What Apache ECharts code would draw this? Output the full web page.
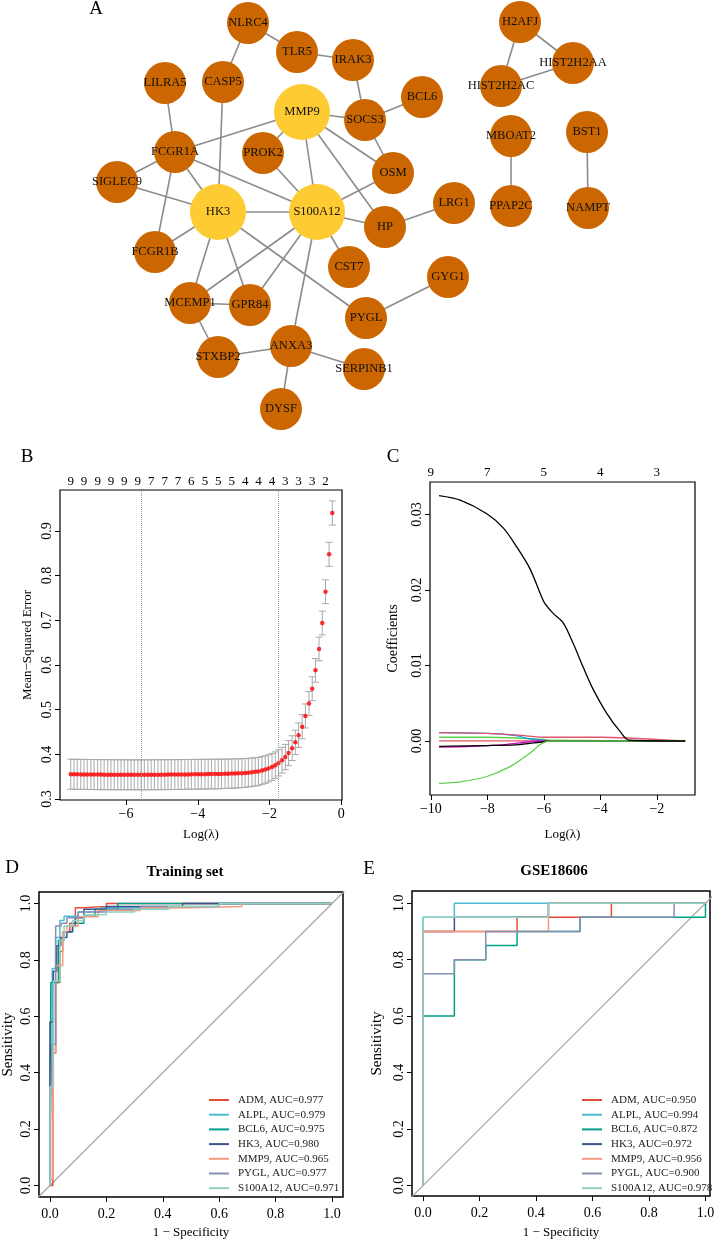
<!DOCTYPE html>
<html>
<head>
<meta charset="utf-8">
<script src="https://cdn.jsdelivr.net/npm/echarts@6/dist/echarts.min.js"></script>
<style>
html,body{margin:0;padding:0;background:#fff}
#main{width:718px;height:1240px}
</style>
</head>
<body>
<div id="main"></div>
<script>
var FONT = '"Liberation Serif", "Times New Roman", serif';

// ---------- A: PPI network (node positions) ----------
var geneNames = ['NLRC4','TLR5','IRAK3','CASP5','LILRA5','BCL6','MMP9','SOCS3','PROK2','FCGR1A',
  'OSM','SIGLEC9','HK3','S100A12','HP','LRG1','FCGR1B','CST7','GYG1','MCEMP1',
  'GPR84','PYGL','STXBP2','ANXA3','SERPINB1','DYSF','H2AFJ','HIST2H2AA','HIST2H2AC','MBOAT2',
  'BST1','PPAP2C','NAMPT'];
var genePos = [[248,23],[297,52],[353,60],[223,82],[165,83],[422,97],[302,112],[365,120],[263,153],[175,152],
  [393,173],[117,182],[218,212],[317,212],[385,227],[454,203],[155,252],[349,267],[448,277],[190,303],
  [250,305],[366,318],[218,357],[291,346],[364,369],[281,409],[520,22],[573,63],[501,86],[511,136],
  [587,132],[511,206],[588,208]];
var hubGenes = ['MMP9','HK3','S100A12'];
var ppiLinks = [['NLRC4','TLR5'],['TLR5','IRAK3'],['NLRC4','CASP5'],['IRAK3','SOCS3'],['SOCS3','BCL6'],
  ['MMP9','SOCS3'],['SOCS3','OSM'],['MMP9','OSM'],['MMP9','FCGR1A'],['MMP9','PROK2'],['MMP9','S100A12'],
  ['MMP9','HP'],['LILRA5','FCGR1A'],['CASP5','HK3'],['FCGR1A','SIGLEC9'],['FCGR1A','HK3'],
  ['FCGR1A','S100A12'],['FCGR1A','FCGR1B'],['SIGLEC9','HK3'],['PROK2','S100A12'],['HK3','S100A12'],
  ['S100A12','OSM'],['S100A12','HP'],['HP','LRG1'],['HK3','FCGR1B'],['HK3','MCEMP1'],['HK3','GPR84'],
  ['HK3','PYGL'],['S100A12','MCEMP1'],['S100A12','GPR84'],['S100A12','ANXA3'],['S100A12','CST7'],
  ['MCEMP1','GPR84'],['MCEMP1','STXBP2'],['STXBP2','ANXA3'],['ANXA3','SERPINB1'],['ANXA3','DYSF'],
  ['PYGL','GYG1'],['H2AFJ','HIST2H2AA'],['H2AFJ','HIST2H2AC'],['HIST2H2AA','HIST2H2AC'],
  ['MBOAT2','PPAP2C'],['BST1','NAMPT']];

// ---------- B: cross-validation curve ----------
var cvLogLambda = [-7.54,-7.45,-7.36,-7.26,-7.17,-7.08,-6.98,-6.89,-6.79,-6.70,
  -6.61,-6.51,-6.42,-6.33,-6.23,-6.14,-6.05,-5.95,-5.86,-5.77,
  -5.67,-5.58,-5.49,-5.39,-5.30,-5.21,-5.11,-5.02,-4.92,-4.83,
  -4.74,-4.64,-4.55,-4.46,-4.36,-4.27,-4.18,-4.08,-3.99,-3.90,
  -3.80,-3.71,-3.62,-3.52,-3.43,-3.34,-3.24,-3.15,-3.05,-2.96,
  -2.87,-2.77,-2.68,-2.59,-2.49,-2.40,-2.31,-2.21,-2.12,-2.03,
  -1.93,-1.84,-1.75,-1.65,-1.56,-1.47,-1.37,-1.28,-1.19,-1.09,
  -1.00,-0.90,-0.81,-0.72,-0.62,-0.53,-0.44,-0.34,-0.25];
var cvMse = [0.3556,0.3555,0.3554,0.3553,0.3552,0.3551,0.3550,0.3549,0.3548,0.3548,
  0.3547,0.3547,0.3546,0.3546,0.3545,0.3545,0.3545,0.3544,0.3544,0.3544,
  0.3543,0.3543,0.3544,0.3544,0.3545,0.3545,0.3546,0.3546,0.3547,0.3548,
  0.3548,0.3549,0.3550,0.3551,0.3552,0.3553,0.3554,0.3555,0.3556,0.3557,
  0.3558,0.3559,0.3560,0.3561,0.3562,0.3564,0.3566,0.3568,0.3571,0.3574,
  0.3577,0.3581,0.3586,0.3592,0.3600,0.3610,0.3620,0.3640,0.3660,0.3685,
  0.3720,0.3760,0.3810,0.3870,0.3940,0.4030,0.4140,0.4270,0.4430,0.4620,
  0.4860,0.5140,0.5470,0.5880,0.6360,0.6940,0.7640,0.8476,0.9400];
var cvSe = [0.0336,0.0336,0.0336,0.0336,0.0336,0.0336,0.0336,0.0336,0.0336,0.0336,
  0.0336,0.0336,0.0336,0.0336,0.0335,0.0335,0.0335,0.0335,0.0335,0.0335,
  0.0335,0.0335,0.0335,0.0335,0.0335,0.0335,0.0335,0.0335,0.0335,0.0335,
  0.0334,0.0334,0.0334,0.0334,0.0334,0.0333,0.0333,0.0333,0.0333,0.0332,
  0.0332,0.0332,0.0331,0.0331,0.0330,0.0330,0.0329,0.0328,0.0327,0.0326,
  0.0325,0.0324,0.0322,0.0320,0.0318,0.0316,0.0313,0.0310,0.0307,0.0304,
  0.0300,0.0296,0.0292,0.0288,0.0284,0.0280,0.0277,0.0274,0.0272,0.0270,
  0.0268,0.0267,0.0266,0.0265,0.0265,0.0265,0.0266,0.0268,0.0270];
var cvLambdaLines = [-5.58, -1.75];
var cvTopPos = [-7.54,-7.17,-6.79,-6.42,-6.05,-5.67,-5.30,-4.92,-4.55,-4.18,
  -3.80,-3.43,-3.05,-2.68,-2.31,-1.93,-1.56,-1.19,-0.81,-0.44];
var cvTopLab = ['9','9','9','9','9','9','7','7','7','6','5','5','5','4','4','4','3','3','3','2'];
var cvXTicks = [-6, -4, -2, 0];
var cvYTicks = [0.3, 0.4, 0.5, 0.6, 0.7, 0.8, 0.9];

// ---------- C: coefficient paths ----------
var pathMain = [[-9.71,0.0325],[-8.96,0.0319],[-8.02,0.0301],[-7.43,0.0282],[-6.96,0.0257],[-6.49,0.0228],
  [-6.08,0.0191],[-5.96,0.0182],[-5.67,0.0169],[-5.31,0.0156],[-4.96,0.0129],[-4.61,0.0098],[-4.25,0.0068],
  [-3.78,0.0037],[-3.31,0.0013],[-2.98,0.0001],[-1.0,0]];
var pathPink = [[-9.71,0.0011],[-8.0,0.0010],[-7.0,0.0008],[-6.0,0.0005],[-5.0,0.0005],[-4.0,0.0005],[-3.0,0.0004],[-2.0,0.0002],[-1.0,0]];
var pathPinkZero = [[-9.71,0.00002],[-6.0,0.00002],[-1.0,0]];
var pathBlue = [[-9.71,0.0011],[-8.0,0.0010],[-7.0,0.0007],[-6.5,0.0003],[-6.0,0.0001],[-5.8,0],[-1.0,0]];
var pathGreenSmall = [[-9.71,0.0005],[-8.0,0.0005],[-7.0,0.0004],[-6.0,0.0002],[-5.8,0.0001],[-1.0,0]];
var pathMagenta = [[-9.71,-0.0008],[-8.5,-0.0007],[-7.5,-0.0005],[-7.0,-0.0003],[-6.5,-0.0001],[-6.2,0],[-1.0,0]];
var pathBlackSmall = [[-9.71,-0.0007],[-8.0,-0.0006],[-7.0,-0.0005],[-6.5,-0.0003],[-6.0,-0.0001],[-5.9,0],[-1.0,0]];
var pathGreenNeg = [[-9.71,-0.0056],[-8.96,-0.0054],[-8.02,-0.0047],[-7.2,-0.0034],[-6.49,-0.0016],[-6.14,-0.0005],[-5.8,0],[-1.0,0]];
var coefXTicks = [-10, -8, -6, -4, -2];
var coefYTicks = [0, 0.01, 0.02, 0.03];
var coefTopLab = ['9', '7', '5', '4', '3'];

// ---------- D: ROC, training set ----------
var rocGenes = ['ADM','ALPL','BCL6','HK3','MMP9','PYGL','S100A12'];
var rocColors = ['#E64B35','#4DBBD5','#00A087','#3C5488','#F39B7F','#8491B4','#91D1C2'];
var trainAuc = ['0.977','0.979','0.975','0.980','0.965','0.977','0.971'];
var trainADM = [[0,0],[0.01,0],[0.01,0.47],[0.02,0.47],[0.02,0.72],[0.035,0.72],[0.035,0.83],[0.045,0.83],[0.045,0.9],
  [0.07,0.9],[0.07,0.93],[0.09,0.93],[0.09,0.985],[0.12,0.985],[0.12,0.99],[0.2,0.99],[0.2,1],[1,1]];
var trainALPL = [[0,0],[0,0.48],[0.008,0.48],[0.008,0.77],[0.02,0.77],[0.02,0.88],[0.035,0.88],[0.035,0.94],[0.05,0.94],
  [0.05,0.955],[0.1,0.955],[0.1,0.97],[0.18,0.97],[0.18,0.985],[0.4,0.985],[0.4,0.99],[0.6,0.99],[0.6,1],[1,1]];
var trainBCL6 = [[0,0],[0,0.15],[0.003,0.15],[0.003,0.72],[0.03,0.72],[0.03,0.87],[0.05,0.87],[0.05,0.9],[0.08,0.9],
  [0.08,0.93],[0.12,0.93],[0.12,0.955],[0.16,0.955],[0.16,0.98],[0.24,0.98],[0.24,1],[1,1]];
var trainHK3 = [[0,0],[0,0.58],[0.012,0.58],[0.012,0.76],[0.024,0.76],[0.024,0.85],[0.038,0.85],[0.038,0.88],[0.06,0.88],
  [0.06,0.9],[0.08,0.9],[0.08,0.92],[0.09,0.92],[0.09,0.95],[0.12,0.95],[0.12,0.98],[0.2,0.98],[0.2,0.99],[0.47,0.99],[0.47,1],[1,1]];
var trainMMP9 = [[0,0],[0,0.02],[0.008,0.02],[0.008,0.47],[0.02,0.47],[0.02,0.78],[0.045,0.78],[0.045,0.9],[0.06,0.9],
  [0.06,0.92],[0.1,0.92],[0.1,0.953],[0.17,0.953],[0.17,0.975],[0.32,0.975],[0.32,0.985],[0.5,0.985],[0.5,0.99],[0.68,0.99],[0.68,1],[1,1]];
var trainPYGL = [[0,0],[0,0.18],[0.007,0.18],[0.007,0.5],[0.02,0.5],[0.02,0.92],[0.04,0.92],[0.04,0.93],[0.06,0.93],
  [0.06,0.95],[0.1,0.95],[0.1,0.97],[0.2,0.97],[0.2,0.98],[0.32,0.98],[0.32,0.99],[0.6,0.99],[0.6,1],[1,1]];
var trainS100A12 = [[0,0],[0,0.35],[0.012,0.35],[0.012,0.725],[0.035,0.725],[0.035,0.87],[0.05,0.87],[0.05,0.92],[0.08,0.92],
  [0.08,0.94],[0.12,0.94],[0.12,0.96],[0.2,0.96],[0.2,0.97],[0.3,0.97],[0.3,0.98],[0.42,0.98],[0.42,0.99],[0.6,0.99],[0.6,1],[1,1]];

// ---------- E: ROC, GSE18606 ----------
var valAuc = ['0.950','0.994','0.872','0.972','0.956','0.900','0.978'];
var valADM = [[0,0],[0,0.9],[0.333,0.9],[0.333,0.95],[0.667,0.95],[0.667,1],[1,1]];
var valALPL = [[0,0],[0,0.95],[0.111,0.95],[0.111,1],[1,1]];
var valBCL6 = [[0,0],[0,0.6],[0.111,0.6],[0.111,0.8],[0.222,0.8],[0.222,0.85],[0.333,0.85],[0.333,0.9],
  [0.556,0.9],[0.556,0.95],[1,0.95],[1,1]];
var valHK3 = [[0,0],[0,0.9],[0.111,0.9],[0.111,0.95],[0.444,0.95],[0.444,1],[1,1]];
var valMMP9 = [[0,0],[0,0.9],[0.444,0.9],[0.444,1],[1,1]];
var valPYGL = [[0,0],[0,0.75],[0.111,0.75],[0.111,0.8],[0.222,0.8],[0.222,0.9],[0.556,0.9],[0.556,0.95],
  [0.889,0.95],[0.889,1],[1,1]];
var valS100A12 = [[0,0],[0,0.95],[0.444,0.95],[0.444,1],[1,1]];
var rocTicks = [0, 0.2, 0.4, 0.6, 0.8, 1.0];
var diagRef = [[-1,-1],[2,2]];

var trainCurves = [trainADM, trainALPL, trainBCL6, trainHK3, trainMMP9, trainPYGL, trainS100A12];
var valCurves = [valADM, valALPL, valBCL6, valHK3, valMMP9, valPYGL, valS100A12];

// ---------- helpers ----------
function minusFmt(d){
  return function(v){
    var s = Math.abs(v).toFixed(d);
    return v < -1e-9 ? '\u2212' + s : s;
  };
}
function nearestLabel(pos, lab){
  return function(v){
    var best = 0;
    for (var i = 1; i < pos.length; i++) {
      if (Math.abs(pos[i] - v) < Math.abs(pos[best] - v)) best = i;
    }
    return lab[best];
  };
}
function xAxisBox(grid, min, max, ticks, fmt, name, gap, margin){
  return {
    type:'value', gridIndex:grid, min:min, max:max, position:'bottom',
    axisLine:{show:false, onZero:false}, splitLine:{show:false},
    axisTick:{show:true, length:5, customValues:ticks, lineStyle:{color:'#000', width:1}},
    axisLabel:{customValues:ticks, formatter:fmt, color:'#000', fontFamily:FONT, fontSize:14, margin:margin},
    name:name, nameLocation:'middle', nameGap:gap,
    nameTextStyle:{color:'#000', fontFamily:FONT, fontSize:13}
  };
}
function yAxisBox(grid, min, max, ticks, fmt, name, gap, nameSize){
  return {
    type:'value', gridIndex:grid, min:min, max:max, position:'left',
    axisLine:{show:false, onZero:false}, splitLine:{show:false},
    axisTick:{show:true, length:5, customValues:ticks, lineStyle:{color:'#000', width:1}},
    axisLabel:{customValues:ticks, formatter:fmt, rotate:90, color:'#000', fontFamily:FONT, fontSize:14, margin:6},
    name:name, nameLocation:'middle', nameGap:gap, nameRotate:90,
    nameTextStyle:{color:'#000', fontFamily:FONT, fontSize:nameSize}
  };
}
function topAxis(grid, min, max, pos, lab, margin){
  return {
    type:'value', gridIndex:grid, min:min, max:max, position:'top',
    axisLine:{show:false, onZero:false}, axisTick:{show:false}, splitLine:{show:false},
    axisLabel:{customValues:pos, formatter:nearestLabel(pos, lab), color:'#000', fontFamily:FONT, fontSize:13, margin:margin}
  };
}
function box(l, t, w, h, bw){
  return {left:l, top:t, width:w, height:h, show:true, borderColor:'#000', borderWidth:bw, backgroundColor:'transparent'};
}

// network nodes and links
var nodes = geneNames.map(function(g, i){
  var hub = hubGenes.indexOf(g) >= 0;
  return {name:g, value:genePos[i], symbolSize: hub ? 56 : 42,
          itemStyle:{color: hub ? '#FECB33' : '#CC6600'}};
});
var links = ppiLinks.map(function(l){ return {source:l[0], target:l[1]}; });

var chart = echarts.init(document.getElementById('main'));

var series = [];
series.push({
  type:'graph', coordinateSystem:'cartesian2d', xAxisIndex:0, yAxisIndex:0,
  data:nodes, links:links, roam:false, silent:true,
  label:{show:true, position:'inside', color:'#111', fontFamily:FONT, fontSize:12.5},
  lineStyle:{color:'#8c8c8c', width:1.6, opacity:1, curveness:0}
});

// B: error bars
series.push({
  type:'custom', xAxisIndex:1, yAxisIndex:1, silent:true,
  data: cvLogLambda.map(function(x, i){ return [x, cvMse[i] - cvSe[i], cvMse[i] + cvSe[i]]; }),
  encode:{x:0, y:[1,2]},
  renderItem:function(params, api){
    var hi = api.coord([api.value(0), api.value(2)]);
    var lo = api.coord([api.value(0), api.value(1)]);
    var w = 3.5, st = {stroke:'#a9a9a9', lineWidth:1};
    return {type:'group', children:[
      {type:'line', shape:{x1:hi[0], y1:hi[1], x2:lo[0], y2:lo[1]}, style:st},
      {type:'line', shape:{x1:hi[0]-w, y1:hi[1], x2:hi[0]+w, y2:hi[1]}, style:st},
      {type:'line', shape:{x1:lo[0]-w, y1:lo[1], x2:lo[0]+w, y2:lo[1]}, style:st}
    ]};
  }
});
series.push({
  type:'scatter', xAxisIndex:1, yAxisIndex:1, silent:true,
  data: cvLogLambda.map(function(x, i){ return [x, cvMse[i]]; }),
  symbolSize:4.5, itemStyle:{color:'#FF0000'},
  markLine:{silent:true, symbol:'none', label:{show:false},
    lineStyle:{color:'#999', type:'dotted', width:1},
    data: cvLambdaLines.map(function(v){ return {xAxis:v}; })}
});

// C: coefficient paths
var coefPaths = [
  [pathPinkZero, '#DF536B'], [pathGreenSmall, '#61D04F'], [pathBlue, '#2297E6'], [pathPink, '#DF536B'],
  [pathMagenta, '#CD0BBC'], [pathBlackSmall, '#000000'], [pathGreenNeg, '#61D04F'], [pathMain, '#000000']
];
coefPaths.forEach(function(p){
  series.push({type:'line', xAxisIndex:3, yAxisIndex:2, data:p[0], showSymbol:false, silent:true,
    smooth:0.3, lineStyle:{color:p[1], width:1.3}});
});

// D / E: ROC curves
function addRoc(curves, aucs, xi, yi){
  series.push({type:'line', xAxisIndex:xi, yAxisIndex:yi, data:diagRef, showSymbol:false, silent:true,
    lineStyle:{color:'#a6a6a6', width:1.2}});
  curves.forEach(function(c, i){
    series.push({type:'line', name: rocGenes[i] + ', AUC=' + aucs[i], xAxisIndex:xi, yAxisIndex:yi,
      data:c, showSymbol:false, silent:true, itemStyle:{color:rocColors[i]},
      lineStyle:{color:rocColors[i], width:1.5}});
  });
}
addRoc(trainCurves, trainAuc, 5, 3);
addRoc(valCurves, valAuc, 6, 4);

function legendFor(aucs, left){
  return {
    data: rocGenes.map(function(g, i){ return g + ', AUC=' + aucs[i]; }),
    orient:'vertical', left:left, top:1089, icon:'rect', itemWidth:20, itemHeight:2, itemGap:2.7,
    selectedMode:false,
    textStyle:{color:'#222', fontFamily:FONT, fontSize:11, lineHeight:12, padding:[0,0,0,4]}
  };
}

function label(t, x, y, size, bold){
  return {type:'text', x:x, y:y, silent:true,
    style:{text:t, fill:'#000', align:'center', verticalAlign:'middle',
      font:(bold ? 'bold ' : '') + size + 'px ' + FONT}};
}

var option = {
  animation:false,
  backgroundColor:'#fff',
  grid:[
    {left:0, top:0, width:718, height:460, show:false},
    box(60, 490, 282, 310, 1.2),
    box(430, 482, 265, 313, 1.2),
    box(38, 892, 305, 306, 1.5),
    box(412, 891, 298, 306, 1.5)
  ],
  xAxis:[
    {type:'value', gridIndex:0, min:0, max:718, show:false},
    xAxisBox(1, -7.84, 0.02, cvXTicks, minusFmt(0), 'Log(\u03bb)', 28, 7),
    topAxis(1, -7.84, 0.02, cvTopPos, cvTopLab, 2),
    xAxisBox(2, -10.03, -0.65, coefXTicks, minusFmt(0), 'Log(\u03bb)', 33, 7),
    topAxis(2, -10.03, -0.65, coefXTicks, coefTopLab, 3),
    xAxisBox(3, -0.039, 1.039, rocTicks, minusFmt(1), '1 \u2212 Specificity', 29, 10),
    xAxisBox(4, -0.039, 1.016, rocTicks, minusFmt(1), '1 \u2212 Specificity', 30, 10)
  ],
  yAxis:[
    {type:'value', gridIndex:0, min:0, max:460, inverse:true, show:false},
    yAxisBox(1, 0.298, 0.9915, cvYTicks, minusFmt(1), 'Mean\u2212Squared Error', 26, 13),
    yAxisBox(2, -0.00715, 0.0343, coefYTicks, minusFmt(2), 'Coefficients', 30, 14),
    yAxisBox(3, -0.041, 1.041, rocTicks, minusFmt(1), 'Sensitivity', 23, 15),
    yAxisBox(4, -0.037, 1.043, rocTicks, minusFmt(1), 'Sensitivity', 27, 15)
  ],
  legend:[legendFor(trainAuc, 204), legendFor(valAuc, 577)],
  graphic:[
    label('A', 96, 9, 19, false),
    label('B', 27, 457, 19, false),
    label('C', 393, 457, 19, false),
    label('D', 12, 868, 19, false),
    label('E', 369, 869, 19, false),
    label('Training set', 185, 872, 15, true),
    label('GSE18606', 554, 871, 15, true)
  ],
  series:series
};
chart.setOption(option);
</script>
</body>
</html>
